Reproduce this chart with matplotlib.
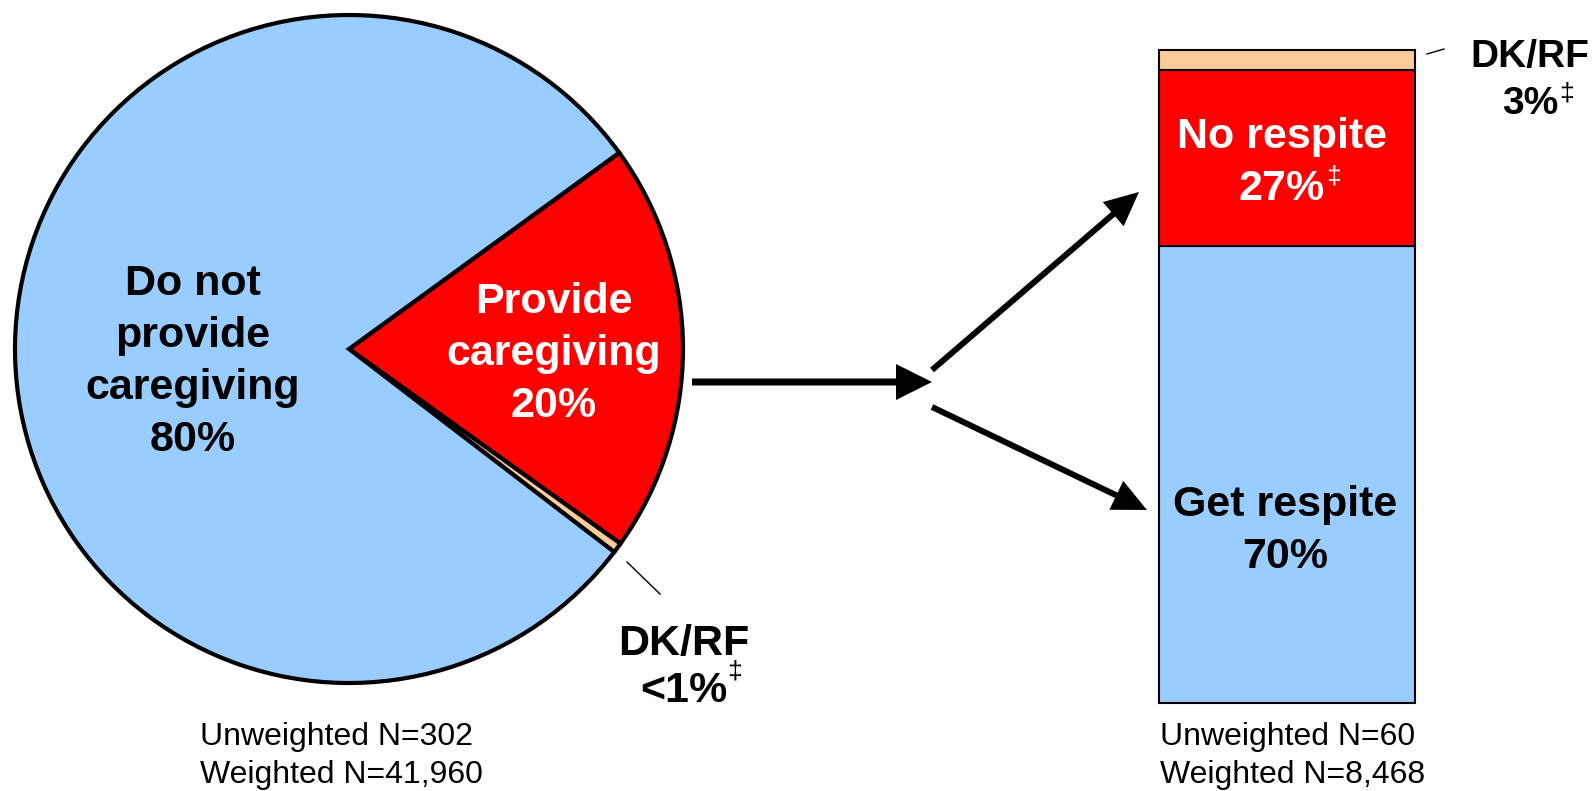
import matplotlib.pyplot as plt

W, H = 1593, 791

# caregiving split (pie) and respite split among caregivers (stacked bar)
pie_values = [20, 0.5, 80]
pie_colors = ["#FF0000", "#FFCC99", "#99CCFF"]

bar_values = [70, 27, 3]
bar_colors = ["#99CCFF", "#FF0000", "#FFCC99"]

pie_n = ["Unweighted N=302", "Weighted N=41,960"]
bar_n = ["Unweighted N=60", "Weighted N=8,468"]

plt.rcParams['font.family'] = ['Liberation Sans', 'DejaVu Sans']

fig = plt.figure(figsize=(W / 100, H / 100), dpi=100)

# stacked bar on its own axes, 0-100 %
bax = fig.add_axes([1159 / W, 88 / H, 256 / W, 653 / H])
bottom = 0
for v, c in zip(bar_values, bar_colors):
    bax.bar(0, v, bottom=bottom, width=1, color=c, edgecolor='black',
            linewidth=1.5, clip_on=False)
    bottom += v
bax.set_xlim(-0.5, 0.5)
bax.set_ylim(0, 100)
bax.axis('off')

# pixel-space axes for the pie, arrows and all text (on top of the bar)
ax = fig.add_axes([0, 0, 1, 1])
ax.set_zorder(2)
ax.pie(pie_values, colors=pie_colors, startangle=36, counterclock=False,
       center=(349, H - 349), radius=334,
       wedgeprops=dict(edgecolor='black', linewidth=3))
ax.set_xlim(0, W)
ax.set_ylim(0, H)
ax.axis('off')

# arrows
arrow_kw = dict(length_includes_head=True, fc='black', ec='none')
ax.arrow(692, H - 382, 240, 0, width=7, head_width=36, head_length=36, **arrow_kw)
ax.arrow(932, H - 370, 207, 178, width=6, head_width=32, head_length=34, **arrow_kw)
ax.arrow(932, H - 407, 215, -103, width=6, head_width=32, head_length=34, **arrow_kw)

# leader lines for the small DK/RF pieces
ax.plot([627, 660], [H - 562, H - 594], color='black', lw=1)
ax.plot([1427, 1444], [H - 54, H - 49], color='black', lw=1)


def block(x, y0, lines, color, pitch=52, dagger=None, size=31):
    t = None
    for i, s in enumerate(lines):
        t = ax.text(x, H - (y0 + i * pitch), s, ha='center', va='baseline',
                    fontsize=size, fontweight='bold', color=color)
    if dagger is not None:
        ax.annotate('\u2021', xy=(1, 1), xycoords=t, xytext=dagger,
                    textcoords='offset points', ha='left', va='top',
                    fontsize=19, color=color)


block(193, 295, ["Do not", "provide", "caregiving", "80%"], 'black')
block(554, 313, ["Provide", "caregiving", "20%"], 'white')
block(684, 655, ["DK/RF", "<1%"], 'black', pitch=47, dagger=(0, 8))
block(1282, 148, ["No respite", "27%"], 'white', dagger=(1, 3))
block(1285, 516, ["Get respite", "70%"], 'black')
block(1530, 67, ["DK/RF", "3%"], 'black', pitch=47, dagger=(1, 3), size=28)

for x, lines in [(200, pie_n), (1160, bar_n)]:
    for i, s in enumerate(lines):
        ax.text(x, H - (745 + i * 38), s, ha='left', va='baseline',
                fontsize=23, color='black')

fig.savefig('out.png', dpi=100)
